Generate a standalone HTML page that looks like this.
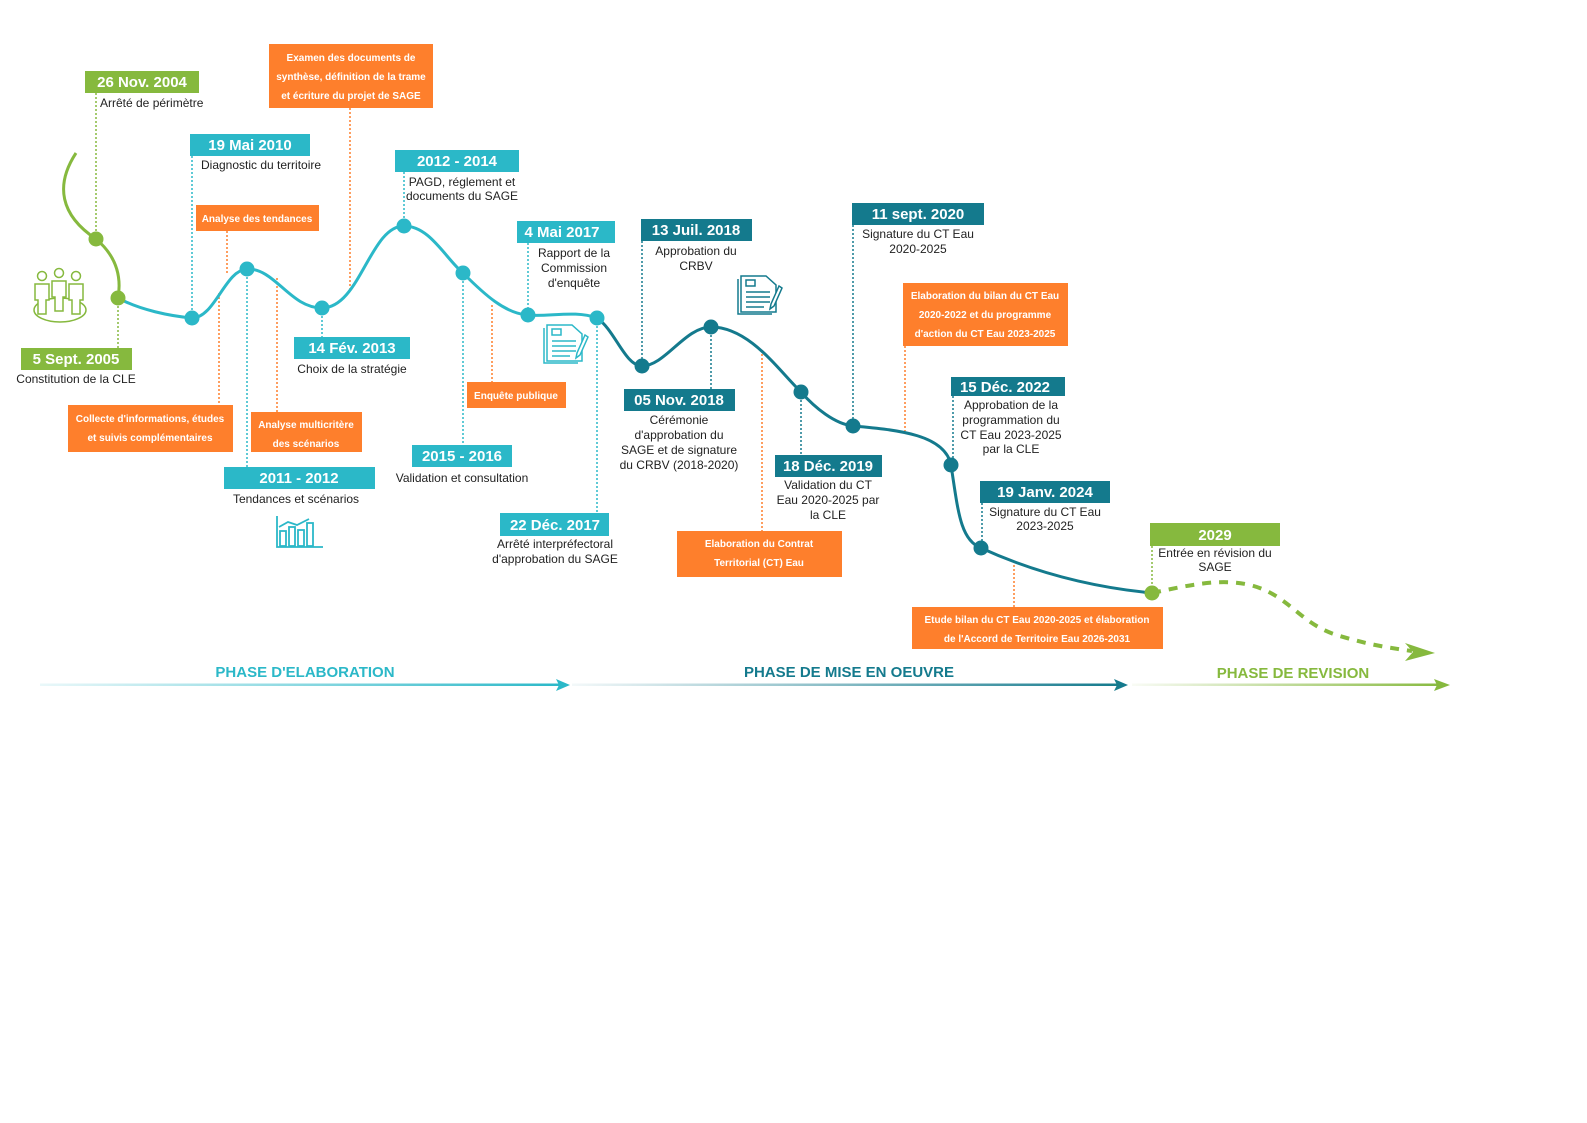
<!DOCTYPE html>
<html><head><meta charset="utf-8"><style>
html,body{margin:0;padding:0;background:#fff;}
svg{display:block;}
.d{font-family:"Liberation Sans",sans-serif;font-weight:bold;font-size:15px;fill:#fff;text-anchor:middle;}
.t{font-family:"Liberation Sans",sans-serif;font-size:12px;fill:#222;text-anchor:middle;}
.o{font-family:"Liberation Sans",sans-serif;font-weight:bold;font-size:10px;fill:#fff;text-anchor:middle;}
.p{font-family:"Liberation Sans",sans-serif;font-weight:bold;font-size:15px;text-anchor:middle;}
</style></head><body>
<svg width="1587" height="1123" viewBox="0 0 1587 1123" xmlns="http://www.w3.org/2000/svg">
<defs>
<linearGradient id="g1" x1="0" x2="1"><stop offset="0" stop-color="#2bb8c8" stop-opacity="0.1"/><stop offset="1" stop-color="#2bb8c8"/></linearGradient>
<linearGradient id="g2" x1="0" x2="1"><stop offset="0" stop-color="#147a8d" stop-opacity="0.05"/><stop offset="1" stop-color="#147a8d"/></linearGradient>
<linearGradient id="g3" x1="0" x2="1"><stop offset="0" stop-color="#86b93e" stop-opacity="0.05"/><stop offset="1" stop-color="#86b93e"/></linearGradient>
</defs>
<g fill="none" stroke-width="1.5" stroke-dasharray="2,2">
<line x1="96" y1="93" x2="96" y2="239" stroke="#86b93e"/>
<line x1="118" y1="298" x2="118" y2="348" stroke="#86b93e"/>
<line x1="192" y1="156" x2="192" y2="318" stroke="#2bb8c8"/>
<line x1="247" y1="269" x2="247" y2="467" stroke="#2bb8c8"/>
<line x1="322" y1="308" x2="322" y2="337" stroke="#2bb8c8"/>
<line x1="404" y1="172" x2="404" y2="226" stroke="#2bb8c8"/>
<line x1="463" y1="273" x2="463" y2="445" stroke="#2bb8c8"/>
<line x1="528" y1="243" x2="528" y2="315" stroke="#2bb8c8"/>
<line x1="597" y1="318" x2="597" y2="513" stroke="#2bb8c8"/>
<line x1="642" y1="241" x2="642" y2="366" stroke="#147a8d"/>
<line x1="711" y1="327" x2="711" y2="389" stroke="#147a8d"/>
<line x1="801" y1="392" x2="801" y2="455" stroke="#147a8d"/>
<line x1="853" y1="225" x2="853" y2="426" stroke="#147a8d"/>
<line x1="953" y1="396" x2="953" y2="465" stroke="#147a8d"/>
<line x1="982" y1="503" x2="982" y2="548" stroke="#147a8d"/>
<line x1="1152" y1="546" x2="1152" y2="593" stroke="#86b93e"/>
<g stroke="#fe7f2c">
<line x1="227" y1="231" x2="227" y2="273"/>
<line x1="219" y1="293" x2="219" y2="405"/>
<line x1="350" y1="108" x2="350" y2="290"/>
<line x1="277" y1="278" x2="277" y2="412"/>
<line x1="492" y1="305" x2="492" y2="382"/>
<line x1="762" y1="350" x2="762" y2="531"/>
<line x1="905" y1="346" x2="905" y2="431"/>
<line x1="1014" y1="565" x2="1014" y2="607"/>
</g>
</g>
<path d="M76,153 C55,185 60,215 96,239 C115,255 122,275 118,298" fill="none" stroke="#86b93e" stroke-width="3"/>
<path d="M118,298 C140,310 170,316 192,318 C215,318 225,270 247,269 C275,268 290,308 322,308 C360,308 370,226 404,226 C430,226 445,258 464,274 C485,295 505,313 527,315 C550,317 575,310 597,318" fill="none" stroke="#2bb8c8" stroke-width="3"/>
<path d="M597,318 C615,330 625,366 642,366 C665,366 685,327 711,327 C750,327 780,372 801,392 C815,408 835,424 853,426 C900,430 945,435 951,465 C958,510 960,540 981,548 C1040,575 1100,588 1152,593" fill="none" stroke="#147a8d" stroke-width="3"/>
<path d="M1152,593 C1190,585 1220,578 1250,585 C1290,595 1300,625 1340,636 C1370,645 1390,648 1412,651" fill="none" stroke="#86b93e" stroke-width="4" stroke-dasharray="9,8"/>
<polygon points="1435,653 1405,643 1413,652 1405,661" fill="#86b93e"/>
<g fill="#86b93e"><circle cx="96" cy="239" r="7.5"/><circle cx="118" cy="298" r="7.5"/><circle cx="1152" cy="593" r="7.5"/></g>
<g fill="#2bb8c8"><circle cx="192" cy="318" r="7.5"/><circle cx="247" cy="269" r="7.5"/><circle cx="322" cy="308" r="7.5"/><circle cx="404" cy="226" r="7.5"/><circle cx="463" cy="273" r="7.5"/><circle cx="528" cy="315" r="7.5"/><circle cx="597" cy="318" r="7.5"/></g>
<g fill="#147a8d"><circle cx="642" cy="366" r="7.5"/><circle cx="711" cy="327" r="7.5"/><circle cx="801" cy="392" r="7.5"/><circle cx="853" cy="426" r="7.5"/><circle cx="951" cy="465" r="7.5"/><circle cx="981" cy="548" r="7.5"/></g>

<!-- green boxes -->
<rect x="85" y="71" width="114" height="22" fill="#86b93e"/><text class="d" x="142" y="87">26 Nov. 2004</text>
<text class="t" x="100" y="107" text-anchor="start" style="text-anchor:start">Arrêté de périmètre</text>
<rect x="21" y="348" width="111" height="22" fill="#86b93e"/><text class="d" x="76" y="364">5 Sept. 2005</text>
<text class="t" x="76" y="383">Constitution de la CLE</text>
<rect x="1150" y="523" width="130" height="23" fill="#86b93e"/><text class="d" x="1215" y="540">2029</text>
<text class="t" x="1215" y="557">Entrée en révision du</text><text class="t" x="1215" y="571">SAGE</text>

<!-- light teal -->
<rect x="190" y="134" width="120" height="22" fill="#2bb8c8"/><text class="d" x="250" y="150">19 Mai 2010</text>
<text class="t" x="201" y="169" style="text-anchor:start">Diagnostic du territoire</text>
<rect x="224" y="467" width="151" height="22" fill="#2bb8c8"/><text class="d" x="299" y="483">2011 - 2012</text>
<text class="t" x="296" y="503">Tendances et scénarios</text>
<rect x="294" y="337" width="116" height="22" fill="#2bb8c8"/><text class="d" x="352" y="353">14 Fév. 2013</text>
<text class="t" x="352" y="373">Choix de la stratégie</text>
<rect x="395" y="150" width="124" height="22" fill="#2bb8c8"/><text class="d" x="457" y="166">2012 - 2014</text>
<text class="t" x="462" y="186">PAGD, réglement et</text><text class="t" x="462" y="200">documents du SAGE</text>
<rect x="412" y="445" width="100" height="22" fill="#2bb8c8"/><text class="d" x="462" y="461">2015 - 2016</text>
<text class="t" x="462" y="482">Validation et consultation</text>
<rect x="517" y="221" width="98" height="22" fill="#2bb8c8"/><text class="d" x="562" y="237">4 Mai 2017</text>
<text class="t" x="574" y="257">Rapport de la</text><text class="t" x="574" y="272">Commission</text><text class="t" x="574" y="287">d'enquête</text>
<rect x="500" y="513" width="109" height="23" fill="#2bb8c8"/><text class="d" x="555" y="530">22 Déc. 2017</text>
<text class="t" x="555" y="548">Arrêté interpréfectoral</text><text class="t" x="555" y="563">d'approbation du SAGE</text>

<!-- dark teal -->
<rect x="641" y="219" width="111" height="22" fill="#147a8d"/><text class="d" x="696" y="235">13 Juil. 2018</text>
<text class="t" x="696" y="255">Approbation du</text><text class="t" x="696" y="270">CRBV</text>
<rect x="624" y="389" width="111" height="22" fill="#147a8d"/><text class="d" x="679" y="405">05 Nov. 2018</text>
<text class="t" x="679" y="424">Cérémonie</text><text class="t" x="679" y="439">d'approbation du</text><text class="t" x="679" y="454">SAGE et de signature</text><text class="t" x="679" y="469">du CRBV (2018-2020)</text>
<rect x="775" y="455" width="107" height="22" fill="#147a8d"/><text class="d" x="828" y="471">18 Déc. 2019</text>
<text class="t" x="828" y="489">Validation du CT</text><text class="t" x="828" y="504">Eau 2020-2025 par</text><text class="t" x="828" y="519">la CLE</text>
<rect x="852" y="203" width="132" height="22" fill="#147a8d"/><text class="d" x="918" y="219">11 sept. 2020</text>
<text class="t" x="918" y="238">Signature du CT  Eau</text><text class="t" x="918" y="253">2020-2025</text>
<rect x="951" y="377" width="114" height="19" fill="#147a8d"/><text class="d" x="1005" y="392">15 Déc. 2022</text>
<text class="t" x="1011" y="409">Approbation de la</text><text class="t" x="1011" y="424">programmation du</text><text class="t" x="1011" y="439">CT Eau 2023-2025</text><text class="t" x="1011" y="453">par la CLE</text>
<rect x="980" y="481" width="130" height="22" fill="#147a8d"/><text class="d" x="1045" y="497">19 Janv. 2024</text>
<text class="t" x="1045" y="516">Signature du CT Eau</text><text class="t" x="1045" y="530">2023-2025</text>

<!-- orange -->
<rect x="269" y="44" width="164" height="64" fill="#fe7f2c"/>
<text class="o" x="351" y="61">Examen des documents de</text><text class="o" x="351" y="80">synthèse, définition de la trame</text><text class="o" x="351" y="99">et écriture du projet de SAGE</text>
<rect x="196" y="205" width="123" height="26" fill="#fe7f2c"/><text class="o" x="257" y="222">Analyse des tendances</text>
<rect x="68" y="405" width="165" height="47" fill="#fe7f2c"/><text class="o" x="150" y="422">Collecte d'informations, études</text><text class="o" x="150" y="441">et suivis  complémentaires</text>
<rect x="251" y="412" width="111" height="40" fill="#fe7f2c"/><text class="o" x="306" y="428">Analyse multicritère</text><text class="o" x="306" y="447">des scénarios</text>
<rect x="467" y="382" width="99" height="26" fill="#fe7f2c"/><text class="o" x="516" y="399">Enquête publique</text>
<rect x="677" y="531" width="165" height="46" fill="#fe7f2c"/><text class="o" x="759" y="547">Elaboration du Contrat</text><text class="o" x="759" y="566">Territorial (CT) Eau</text>
<rect x="903" y="283" width="165" height="63" fill="#fe7f2c"/><text class="o" x="985" y="299">Elaboration du bilan du CT Eau</text><text class="o" x="985" y="318">2020-2022 et du programme</text><text class="o" x="985" y="337">d'action du CT Eau 2023-2025</text>
<rect x="912" y="607" width="251" height="42" fill="#fe7f2c"/><text class="o" x="1037" y="623">Etude bilan du CT Eau 2020-2025 et élaboration</text><text class="o" x="1037" y="642">de l'Accord de Territoire Eau 2026-2031</text>

<!-- icons -->
<g fill="none" stroke="#86b93e" stroke-width="1.5">
<ellipse cx="60" cy="310" rx="26" ry="12"/>
<g fill="#fff">
<circle cx="42" cy="276" r="4.5"/><circle cx="59" cy="273" r="4.5"/><circle cx="76" cy="276" r="4.5"/>
<path d="M35,284 h14 v16 h-3 v14 h-8 v-14 h-3 z"/>
<path d="M69,284 h14 v16 h-3 v14 h-8 v-14 h-3 z"/>
<path d="M52,281 h14 v16 h-3 v14 h-8 v-14 h-3 z"/>
</g></g>
<g fill="none" stroke="#2bb8c8" stroke-width="1.8">
<path d="M277,516 v31 h46"/>
<rect x="280" y="531" width="6" height="15"/><rect x="289" y="527" width="6" height="19"/><rect x="298" y="530" width="6" height="16"/><rect x="307" y="523" width="6" height="23"/>
<path d="M279,527 l9,-5 l9,3 l12,-6"/>
</g>
<g fill="none" stroke="#2bb8c8" stroke-width="1.5">
<path d="M547,325 h25 l10,9 v27 h-35 z" fill="#fff"/><path d="M544,328 v35 h34"/>
<rect x="552" y="329" width="9" height="6"/>
<path d="M552,341 h24 M552,346 h24 M552,351 h24 M552,356 h18"/>
<path d="M585,335 l-8,18 l-1,5 l4,-3 l8,-18 z" fill="#fff"/>
</g>
<g fill="none" stroke="#147a8d" stroke-width="1.5">
<path d="M741,276 h25 l10,9 v27 h-35 z" fill="#fff"/><path d="M738,279 v35 h34"/>
<rect x="746" y="280" width="9" height="6"/>
<path d="M746,292 h24 M746,297 h24 M746,302 h24 M746,307 h18"/>
<path d="M779,286 l-8,18 l-1,5 l4,-3 l8,-18 z" fill="#fff"/>
</g>

<!-- phases -->
<text class="p" x="305" y="677" fill="#2bb8c8">PHASE D'ELABORATION</text>
<rect x="40" y="683.5" width="520" height="2.5" fill="url(#g1)"/><polygon points="570,685 556,679 559,685 556,691" fill="#2bb8c8"/>
<text class="p" x="849" y="677" fill="#147a8d">PHASE DE MISE EN OEUVRE</text>
<rect x="572" y="683.5" width="548" height="2.5" fill="url(#g2)"/><polygon points="1128,685 1114,679 1117,685 1114,691" fill="#147a8d"/>
<text class="p" x="1293" y="678" fill="#86b93e">PHASE DE REVISION</text>
<rect x="1132" y="683.5" width="312" height="2.5" fill="url(#g3)"/><polygon points="1450,685 1434,679 1437,685 1434,691" fill="#86b93e"/>
</svg>
</body></html>
